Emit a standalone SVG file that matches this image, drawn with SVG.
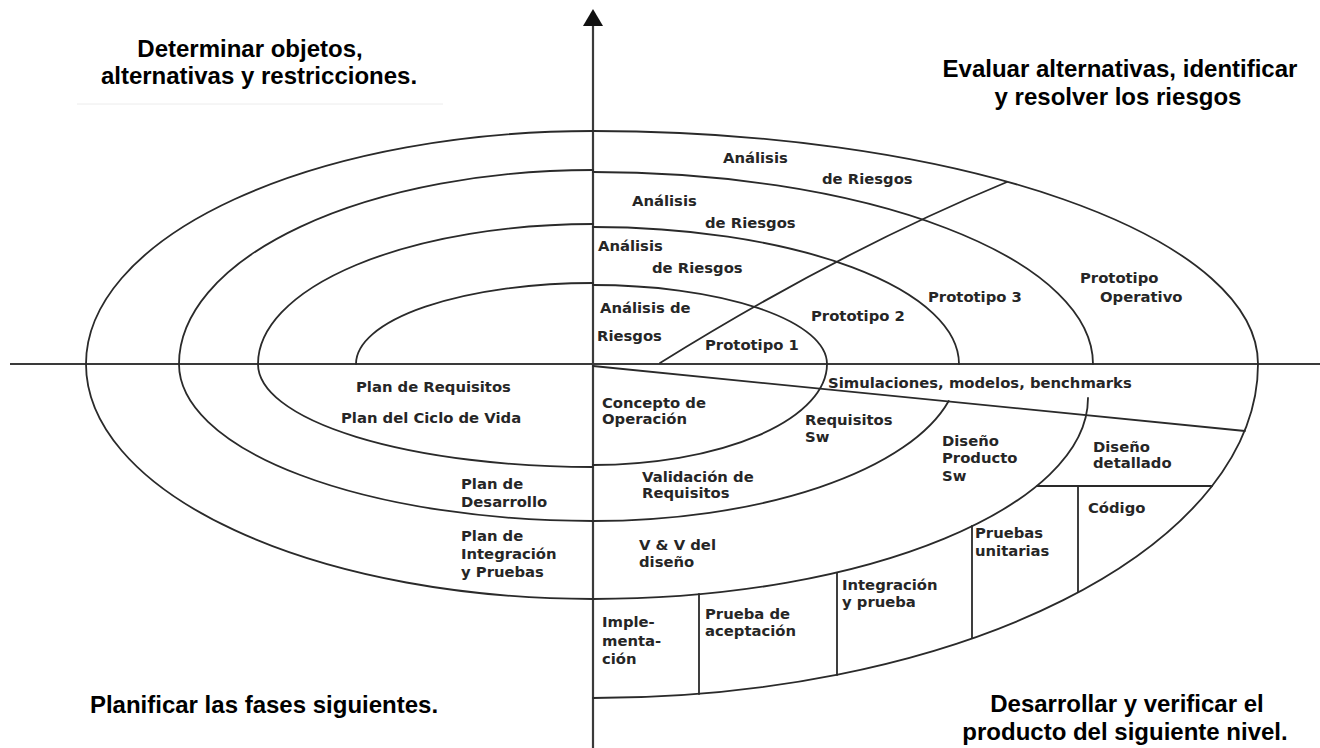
<svg xmlns="http://www.w3.org/2000/svg" width="1320" height="748" viewBox="0 0 1320 748">
  <style>
    .ln { fill: none; stroke: #2a2a2a; stroke-width: 1.8; stroke-linecap: round; }
    .ax { fill: none; stroke: #3a3a3a; stroke-width: 2.2; }
    .lb { font-family: "DejaVu Sans", Verdana, sans-serif; font-weight: bold; font-size: 14.8px; fill: #262626; }
    .hd { font-family: "Liberation Sans", Arial, sans-serif; font-weight: bold; font-size: 24px; fill: #000; text-anchor: middle; }
  </style>
  <defs>
    <!-- solid triangular head, drawn pointing along the path direction -->
    <marker id="arrowhead" viewBox="0 0 17 20" refX="0" refY="10" markerWidth="17" markerHeight="20" markerUnits="userSpaceOnUse" orient="auto">
      <path d="M0,0 L17,10 L0,20 Z" fill="#111"/>
    </marker>
  </defs>
  <rect width="1320" height="748" fill="#fff"/>

  <!-- quadrant headings -->
  <g id="heading-determine">
    <text class="hd" x="250" y="57">Determinar objetos,</text>
    <text class="hd" x="259" y="84">alternativas y restricciones.</text>
    <line x1="77" y1="104" x2="443" y2="104" stroke="#ececec" stroke-width="1"/>
  </g>
  <g id="heading-evaluate">
    <text class="hd" x="1120" y="77">Evaluar alternativas, identificar</text>
    <text class="hd" x="1118" y="105">y resolver los riesgos</text>
  </g>
  <g id="heading-plan">
    <text class="hd" x="264" y="713">Planificar las fases siguientes.</text>
  </g>
  <g id="heading-develop">
    <text class="hd" x="1127" y="712">Desarrollar y verificar el</text>
    <text class="hd" x="1125" y="740">producto del siguiente nivel.</text>
  </g>

  <!-- connectors: axes, spiral turns and sector dividers -->
  <g id="connectors">
    <g id="axes">
      <line class="ax" x1="10" y1="364" x2="1320" y2="364"/>
      <line class="ax" x1="593" y1="748" x2="593" y2="26" marker-end="url(#arrowhead)"/>
    </g>
    <g id="spiral">
      <!-- upper-left quarter turns -->
      <path class="ln" d="M356,364 A237,81 0 0 1 593,283"/>
      <path class="ln" d="M258,364 A335,140 0 0 1 593,224"/>
      <path class="ln" d="M179,364 A414,194 0 0 1 593,170"/>
      <path class="ln" d="M86,364 A507,233 0 0 1 593,131"/>
      <!-- upper-right quarter turns -->
      <path class="ln" d="M593,285 A234,79 0 0 1 827,364"/>
      <path class="ln" d="M593,227 A366,137 0 0 1 959,364"/>
      <path class="ln" d="M593,172 A500,192 0 0 1 1093,364"/>
      <path class="ln" d="M593,131 A665,233 0 0 1 1258,364"/>
      <!-- lower-right quarter turns -->
      <path class="ln" d="M827,364 A234,101 0 0 1 593,465"/>
      <path class="ln" d="M948.7,401 A366,157 0 0 1 593,521"/>
      <path class="ln" d="M1088,398 C1088,505 870,599 593,599"/>
      <path class="ln" d="M1258,364 A665,334 0 0 1 593,698"/>
      <!-- lower-left quarter turns -->
      <path class="ln" d="M258,364 A335,103 0 0 0 593,467"/>
      <path class="ln" d="M179,364 A414,157 0 0 0 593,521"/>
      <path class="ln" d="M86,364 A507,235 0 0 0 593,599"/>
    </g>
    <g id="dividers">
      <path class="ln" d="M660,363 Q840,251 1007,182"/>
      <path class="ln" d="M593,366 L1245,431"/>
      <path class="ln" d="M1037,486 L1212,486"/>
      <path class="ln" d="M1078,486 L1078,592"/>
      <path class="ln" d="M972,526 L972,638"/>
      <path class="ln" d="M837,573 L837,675"/>
      <path class="ln" d="M699,594 L699,694"/>
    </g>
  </g>

  <!-- risk analysis bands -->
  <g id="risk-4"><text class="lb" x="723" y="163">Análisis</text><text class="lb" x="822" y="184">de Riesgos</text></g>
  <g id="risk-3"><text class="lb" x="632" y="206">Análisis</text><text class="lb" x="705" y="228">de Riesgos</text></g>
  <g id="risk-2"><text class="lb" x="598" y="251">Análisis</text><text class="lb" x="652" y="273">de Riesgos</text></g>
  <g id="risk-1"><text class="lb" x="600" y="313">Análisis de</text><text class="lb" x="597" y="341">Riesgos</text></g>

  <!-- prototypes -->
  <g id="prototype-1"><text class="lb" x="705" y="350">Prototipo 1</text></g>
  <g id="prototype-2"><text class="lb" x="811" y="321">Prototipo 2</text></g>
  <g id="prototype-3"><text class="lb" x="928" y="302">Prototipo 3</text></g>
  <g id="prototype-op"><text class="lb" x="1080" y="283">Prototipo</text><text class="lb" x="1100" y="302">Operativo</text></g>
  <g id="simulations"><text class="lb" x="828" y="388">Simulaciones, modelos, benchmarks</text></g>

  <!-- planning quadrant -->
  <g id="plan-req"><text class="lb" x="356" y="392">Plan de Requisitos</text><text class="lb" x="341" y="423">Plan del Ciclo de Vida</text></g>
  <g id="plan-dev"><text class="lb" x="461" y="489">Plan de</text><text class="lb" x="461" y="507">Desarrollo</text></g>
  <g id="plan-int"><text class="lb" x="461" y="541">Plan de</text><text class="lb" x="461" y="559">Integración</text><text class="lb" x="461" y="577">y Pruebas</text></g>

  <!-- development quadrant -->
  <g id="concept"><text class="lb" x="602" y="408">Concepto de</text><text class="lb" x="602" y="424">Operación</text></g>
  <g id="sw-req"><text class="lb" x="805" y="425">Requisitos</text><text class="lb" x="805" y="442">Sw</text></g>
  <g id="product-design"><text class="lb" x="942" y="446">Diseño</text><text class="lb" x="942" y="463">Producto</text><text class="lb" x="942" y="481">Sw</text></g>
  <g id="detail-design"><text class="lb" x="1093" y="452">Diseño</text><text class="lb" x="1093" y="468">detallado</text></g>
  <g id="code"><text class="lb" x="1088" y="513">Código</text></g>
  <g id="unit-tests"><text class="lb" x="975" y="538">Pruebas</text><text class="lb" x="975" y="556">unitarias</text></g>
  <g id="req-validation"><text class="lb" x="642" y="482">Validación de</text><text class="lb" x="642" y="498">Requisitos</text></g>
  <g id="design-vv"><text class="lb" x="639" y="550">V &amp; V del</text><text class="lb" x="639" y="567">diseño</text></g>
  <g id="integration"><text class="lb" x="842" y="590">Integración</text><text class="lb" x="842" y="607">y prueba</text></g>
  <g id="acceptance"><text class="lb" x="705" y="619">Prueba de</text><text class="lb" x="705" y="636">aceptación</text></g>
  <g id="implementation"><text class="lb" x="602" y="627">Imple-</text><text class="lb" x="602" y="646">menta-</text><text class="lb" x="602" y="664">ción</text></g>
</svg>
